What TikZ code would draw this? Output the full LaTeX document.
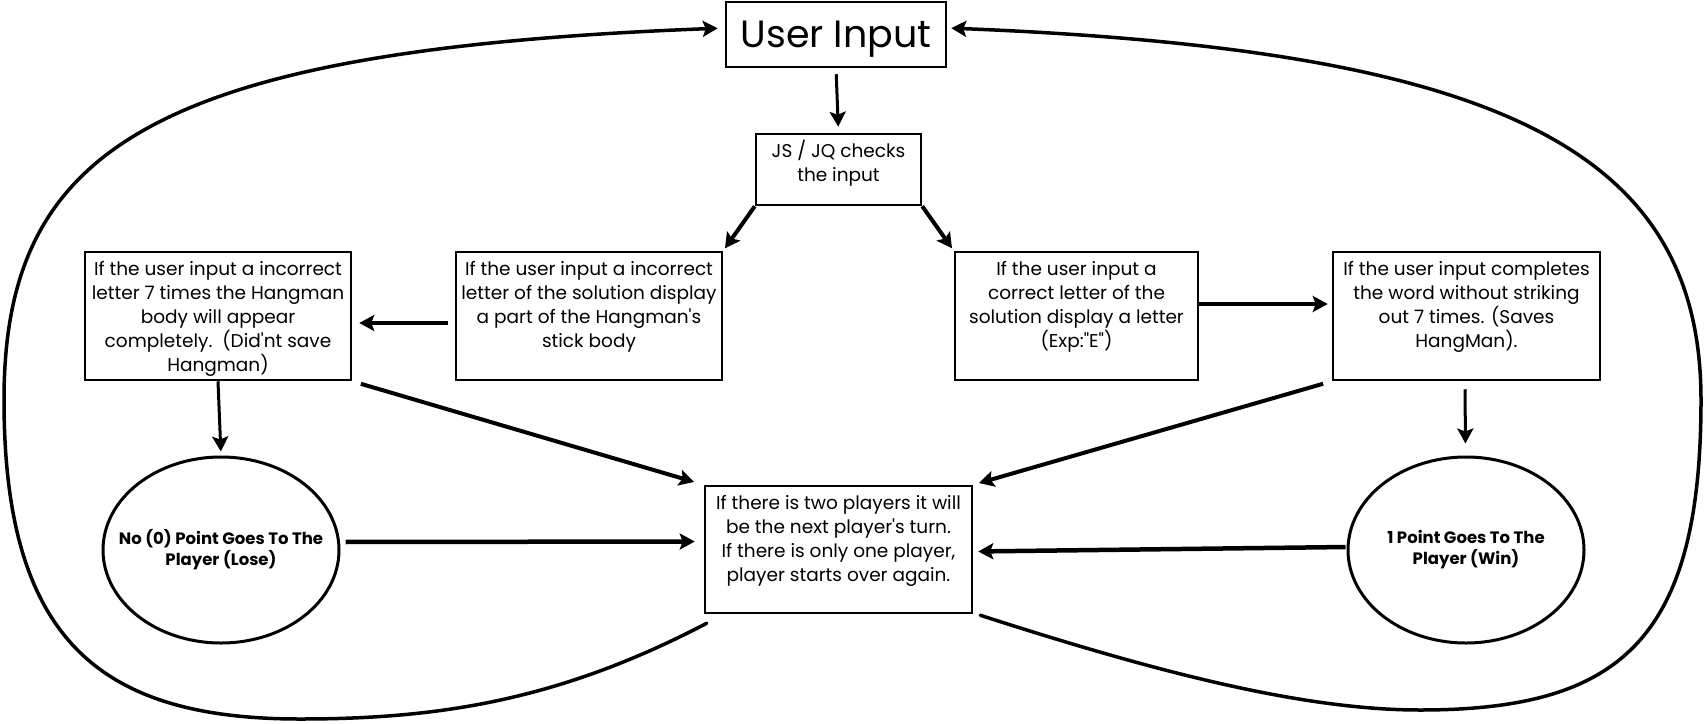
\documentclass[tikz,border=0pt]{standalone}
\usepackage{fontspec}
\newfontfamily\boxfont{Poppins}[Ligatures=TeXOff]
\usetikzlibrary{arrows.meta,calc,shapes.geometric}
\newcommand\mytbox[3]{\parbox[c][#2][t]{#1}{\centering\rule{0pt}{23pt}#3}}
\begin{document}
\begin{tikzpicture}[x=1pt,y=-1pt,
  box/.style={draw, line width=2.5pt, rectangle, inner sep=0pt,
    font=\boxfont\fontsize{18.5pt}{24pt}\selectfont},
  ell/.style={draw, ellipse, line width=3pt, inner xsep=-40pt, inner ysep=-25pt,
    minimum width=236pt, minimum height=186pt, align=center,
    font=\boxfont\bfseries\fontsize{16.5pt}{21pt}\selectfont},
  tip/.style={-{Stealth[length=15pt,width=16pt,inset=3pt]}},
  arr/.style={tip, line width=4pt},
  thinarr/.style={tip, line width=3pt},
  loopline/.style={tip, line width=3.5pt, line cap=round}
]
\fill[white] (0,0) rectangle (1705,723);
\useasboundingbox (0,0) rectangle (1705,723);

% nodes
\node[draw, line width=2.5pt, inner sep=0pt, minimum width=220pt, minimum height=65pt,
  text depth=0pt, font=\boxfont\fontsize{38pt}{40pt}\selectfont] (UI) at (836,34.5) {User Input};
\node[box] (JS) at (838.5,169.5) {\mytbox{165pt}{71pt}{JS / JQ checks\\the input}};
\node[box] (L1) at (218,316) {\mytbox{266pt}{128pt}{If the user input a incorrect\\letter 7 times the Hangman\\body will appear\\completely.\ \ (Did'nt save\\Hangman)}};
\node[box] (L2) at (589,316) {\mytbox{266pt}{128pt}{If the user input a incorrect\\letter of the solution display\\a part of the Hangman's\\stick body}};
\node[box] (R1) at (1076.5,316) {\mytbox{243pt}{128pt}{If the user input a\\correct letter of the\\solution display a letter\\(Exp:"E")}};
\node[box] (R2) at (1466.5,316) {\mytbox{267pt}{128pt}{If the user input completes\\the word without striking\\out 7 times. (Saves\\HangMan).}};
\node[box] (C) at (838.5,549.5) {\mytbox{267pt}{127pt}{If there is two players it will\\be the next player's turn.\\If there is only one player,\\player starts over again.}};
\node[ell] (LE) at (221,550) {No (0) Point Goes To The\\Player (Lose)};
\node[ell] (RE) at (1466,550) {1 Point Goes To The\\Player (Win)};

% connectors
\draw[thinarr, shorten <=6pt, shorten >=6pt] (UI.south) -- (JS.north);
\draw[arr, shorten >=3pt] (JS.south west) -- (L2.north east);
\draw[arr, shorten >=3pt] (JS.south east) -- (R1.north west);
\draw[arr, line width=4.5pt, shorten <=7pt, shorten >=7pt] ([yshift=-7pt]L2.west) -- ([yshift=-7pt]L1.east);
\draw[arr, line width=4.5pt, shorten >=4pt] ([yshift=12pt]R1.east) -- ([yshift=12pt]R2.west);
\draw[thinarr, shorten >=4pt] (L1.south) -- (LE.north);
\draw[thinarr, shorten <=8pt, shorten >=12pt] ([xshift=-1.5pt]R2.south) -- ([xshift=-0.5pt]RE.north);
\draw[arr, shorten <=9pt, shorten >=10pt] (L1.south east) -- (C.north west);
\draw[arr, shorten <=9pt, shorten >=6pt] (R2.south west) -- (C.north east);
\draw[arr, line width=4.5pt, shorten <=5pt, shorten >=9pt] ([yshift=8pt]LE.east) -- ([yshift=8pt]C.west);
\draw[arr, line width=4.5pt, shorten <=1pt, shorten >=5pt] ([yshift=3pt]RE.west) -- ([yshift=-2pt]C.east);

% big loops back to User Input
\draw[loopline, shorten >=7pt] ([xshift=3pt,yshift=-9pt]C.south west)
  .. controls (560,700) and (440,719) .. (300,719)
  .. controls (100,719) and (4,640) .. (4,400)
  .. controls (4,150) and (150,50) .. ([yshift=6.5pt]UI.west);
\draw[loopline, shorten >=4pt] ([xshift=7pt,yshift=-1pt]C.south east)
  .. controls (1150,670) and (1300,710) .. (1420,710)
  .. controls (1620,710) and (1701,640) .. (1701,400)
  .. controls (1701,150) and (1500,50) .. ([yshift=6.5pt]UI.east);
\end{tikzpicture}
\end{document}
